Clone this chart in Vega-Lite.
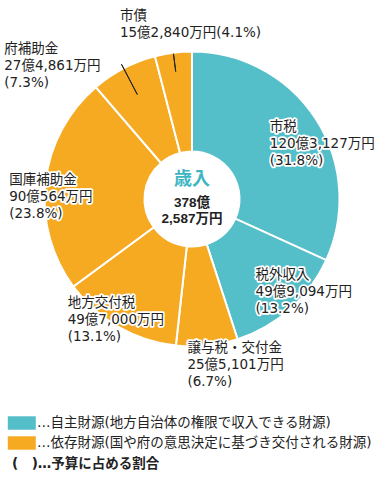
{
  "$schema": "https://vega.github.io/schema/vega-lite/v6.json",
  "width": 384,
  "height": 398,
  "padding": 0,
  "background": "white",
  "data": {
    "values": [
      {"name": "市税", "source": "自主財源", "value": 1203127, "order": 1, "label": "市税\n120億3,127万円\n(31.8%)"},
      {"name": "税外収入", "source": "自主財源", "value": 499094, "order": 2, "label": "税外収入\n49億9,094万円\n(13.2%)"},
      {"name": "譲与税・交付金", "source": "依存財源", "value": 255101, "order": 3, "label": "譲与税・交付金\n25億5,101万円\n(6.7%)"},
      {"name": "地方交付税", "source": "依存財源", "value": 497000, "order": 4, "label": "地方交付税\n49億7,000万円\n(13.1%)"},
      {"name": "国庫補助金", "source": "依存財源", "value": 900564, "order": 5, "label": "国庫補助金\n90億564万円\n(23.8%)"},
      {"name": "府補助金", "source": "依存財源", "value": 274861, "order": 6, "label": "府補助金\n27億4,861万円\n(7.3%)"},
      {"name": "市債", "source": "依存財源", "value": 152840, "order": 7, "label": "市債\n15億2,840万円(4.1%)"}
    ]
  },
  "config": {
    "view": {"stroke": null},
    "text": {"font": "DejaVu Sans, Noto Sans CJK JP", "fontSize": 13.5, "align": "left", "baseline": "top", "lineHeight": 17, "lineBreak": "\n", "fill": "#222222", "clip": true},
    "style": {"halo": {"stroke": "white", "strokeWidth": 3.5, "strokeJoin": "round", "fill": "white"}}
  },
  "layer": [
    {
      "mark": {"type": "arc", "innerRadius": 47.5, "outerRadius": 147.5, "stroke": "white", "strokeWidth": 2},
      "encoding": {
        "theta": {"field": "value", "type": "quantitative", "stack": true},
        "order": {"field": "order", "type": "quantitative"},
        "color": {
          "field": "source", "type": "nominal",
          "scale": {"domain": ["自主財源", "依存財源"], "range": ["#54BEC9", "#F5AA22"]},
          "legend": {
            "orient": "none", "legendX": 12, "legendY": 416, "direction": "vertical", "padding": 0,
            "title": "(　)…予算に占める割合", "titleOrient": "bottom", "titleAnchor": "start",
            "titleFont": "DejaVu Sans, Noto Sans CJK JP", "titleFontSize": 13.5, "titleFontWeight": "bold", "titleColor": "#222222", "titlePadding": 7, "titleLimit": 400,
            "symbolType": "M-1.6,-0.96H2.4V0.96H-1.6Z", "symbolSize": 196, "symbolStrokeWidth": 0, "symbolOpacity": 1,
            "labelExpr": "datum.label == '自主財源' ? '…自主財源(地方自治体の権限で収入できる財源)' : '…依存財源(国や府の意思決定に基づき交付される財源)'",
            "labelFont": "DejaVu Sans, Noto Sans CJK JP", "labelFontSize": 13.5, "labelColor": "#222222", "labelOffset": 11, "labelLimit": 400,
            "rowPadding": 6
          }
        }
      }
    },
    {
      "mark": {"type": "arc", "innerRadius": 128.5, "outerRadius": 146.4, "padAngle": 3, "fill": "transparent", "stroke": "#222222", "strokeWidth": 1},
      "encoding": {
        "theta": {"field": "value", "type": "quantitative", "stack": true},
        "order": {"field": "order", "type": "quantitative"},
        "strokeOpacity": {"condition": {"test": "datum.name === '市債'", "value": 1}, "value": 0}
      }
    },
    {
      "mark": {"type": "arc", "innerRadius": 118, "outerRadius": 152, "padAngle": 3, "fill": "transparent", "stroke": "#222222", "strokeWidth": 1},
      "encoding": {
        "theta": {"field": "value", "type": "quantitative", "stack": true},
        "order": {"field": "order", "type": "quantitative"},
        "strokeOpacity": {"condition": {"test": "datum.name === '府補助金'", "value": 1}, "value": 0}
      }
    },
    {
      "encoding": {
        "theta": {"field": "value", "type": "quantitative", "stack": true},
        "order": {"field": "order", "type": "quantitative"},
        "text": {"condition": {"test": "datum.name === '市税'", "field": "label", "type": "nominal"}, "value": ""}
      },
      "layer": [
        {"mark": {"type": "text", "style": "halo", "radius": 108, "dx": -13, "dy": -21, "clip": true}},
        {"mark": {"type": "text", "radius": 108, "dx": -13, "dy": -21, "clip": true}}
      ]
    },
    {
      "encoding": {
        "theta": {"field": "value", "type": "quantitative", "stack": true},
        "order": {"field": "order", "type": "quantitative"},
        "text": {"condition": {"test": "datum.name === '税外収入'", "field": "label", "type": "nominal"}, "value": ""}
      },
      "layer": [
        {"mark": {"type": "text", "style": "halo", "radius": 94, "dx": 1, "dy": -1, "clip": true}},
        {"mark": {"type": "text", "radius": 94, "dx": 1, "dy": -1, "clip": true}}
      ]
    },
    {
      "encoding": {
        "theta": {"field": "value", "type": "quantitative", "stack": true},
        "order": {"field": "order", "type": "quantitative"},
        "text": {"condition": {"test": "datum.name === '譲与税・交付金'", "field": "label", "type": "nominal"}, "value": ""}
      },
      "layer": [
        {"mark": {"type": "text", "style": "halo", "radius": 141, "dx": -19, "dy": 2, "clip": true}},
        {"mark": {"type": "text", "radius": 141, "dx": -19, "dy": 2, "clip": true}}
      ]
    },
    {
      "encoding": {
        "theta": {"field": "value", "type": "quantitative", "stack": true},
        "order": {"field": "order", "type": "quantitative"},
        "text": {"condition": {"test": "datum.name === '地方交付税'", "field": "label", "type": "nominal"}, "value": ""}
      },
      "layer": [
        {"mark": {"type": "text", "style": "halo", "radius": 147, "dx": -51, "dy": -30, "clip": true}},
        {"mark": {"type": "text", "radius": 147, "dx": -51, "dy": -30, "clip": true}}
      ]
    },
    {
      "encoding": {
        "theta": {"field": "value", "type": "quantitative", "stack": true},
        "order": {"field": "order", "type": "quantitative"},
        "text": {"condition": {"test": "datum.name === '国庫補助金'", "field": "label", "type": "nominal"}, "value": ""}
      },
      "layer": [
        {"mark": {"type": "text", "style": "halo", "radius": 184, "dx": 0, "dy": -5, "clip": true}},
        {"mark": {"type": "text", "radius": 184, "dx": 0, "dy": -5, "clip": true}}
      ]
    },
    {
      "encoding": {
        "theta": {"field": "value", "type": "quantitative", "stack": true},
        "order": {"field": "order", "type": "quantitative"},
        "text": {"condition": {"test": "datum.name === '府補助金'", "field": "label", "type": "nominal"}, "value": ""}
      },
      "layer": [
        {"mark": {"type": "text", "style": "halo", "radius": 226, "dx": -83, "dy": 43, "clip": true}},
        {"mark": {"type": "text", "radius": 226, "dx": -83, "dy": 43, "clip": true}}
      ]
    },
    {
      "encoding": {
        "theta": {"field": "value", "type": "quantitative", "stack": true},
        "order": {"field": "order", "type": "quantitative"},
        "text": {"condition": {"test": "datum.name === '市債'", "field": "label", "type": "nominal"}, "value": ""}
      },
      "layer": [
        {"mark": {"type": "text", "style": "halo", "radius": 198, "dx": -47, "dy": 6, "clip": true}},
        {"mark": {"type": "text", "radius": 198, "dx": -47, "dy": 6, "clip": true}}
      ]
    },
    {
      "data": {"values": [{"heading": "歳入", "total": "378億\n2,587万円"}]},
      "layer": [
        {
          "mark": {"type": "text", "align": "center", "baseline": "middle", "dy": -19, "font": "Noto Sans CJK JP", "fontSize": 18, "fontWeight": "bold", "fill": "#3EB6C2"},
          "encoding": {"text": {"field": "heading", "type": "nominal"}}
        },
        {
          "mark": {"type": "text", "align": "center", "baseline": "top", "dy": -3, "font": "Liberation Sans, Noto Sans CJK JP", "fontSize": 13.5, "fontWeight": "bold", "lineHeight": 15.5},
          "encoding": {"text": {"field": "total", "type": "nominal"}}
        }
      ]
    }
  ]
}
